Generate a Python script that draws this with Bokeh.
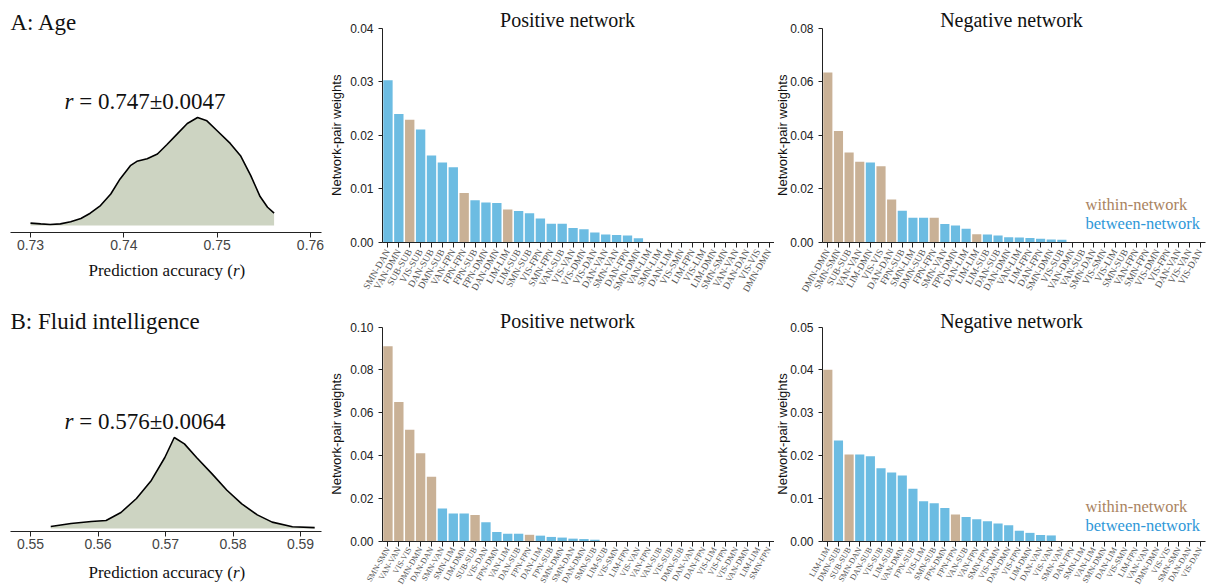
import math
from bokeh.plotting import figure
from bokeh.models import Range1d, FixedTicker, PrintfTickFormatter, Label, ColumnDataSource
from bokeh.layouts import row, column
from bokeh.embed import file_html
from bokeh.resources import INLINE

SERIF = "Liberation Serif"
SANS = "Liberation Sans"
BLUE = "#6cbce2"
TAN = "#c9b196"
FILL = "#cdd4c2"

# ------------------------------------------------------------------ data
age_pos_pairs = ["SMN-DAN", "VAN-DMN", "SUB-SUB", "VIS-SUB", "DAN-SUB", "DMN-SUB", "VAN-FPN",
                 "FPN-FPN", "FPN-SUB", "FPN-DMN", "DAN-DMN", "LIM-LIM", "LIM-SUB", "SMN-SUB",
                 "VIS-FPN", "SMN-FPN", "VAN-SUB", "VIS-VAN", "VIS-DMN", "VIS-DAN", "DAN-VAN",
                 "SMN-VAN", "DAN-FPN", "SMN-DMN", "VAN-LIM", "SMN-LIM", "DAN-LIM", "VIS-SMN",
                 "LIM-FPN", "VIS-LIM", "LIM-DMN", "SMN-SMN", "VAN-VAN", "DAN-DAN", "VIS-VIS",
                 "DMN-DMN"]
age_pos_weights = [0.0303, 0.0240, 0.0229, 0.0211, 0.0162, 0.0149, 0.0140, 0.0092, 0.0078,
                   0.0074, 0.0073, 0.0061, 0.0058, 0.0054, 0.0044, 0.0034, 0.0034, 0.0026,
                   0.0024, 0.0018, 0.0014, 0.0013, 0.0012, 0.0007, 0, 0, 0, 0, 0, 0, 0, 0,
                   0, 0, 0, 0]

age_neg_pairs = ["DMN-DMN", "SMN-SMN", "SUB-SUB", "VAN-VAN", "LIM-DMN", "VIS-VIS", "DAN-DAN",
                 "FPN-SUB", "SMN-LIM", "DMN-SUB", "FPN-FPN", "SMN-VAN", "FPN-DMN", "DAN-LIM",
                 "LIM-LIM", "LIM-SUB", "DAN-SUB", "DAN-DMN", "VAN-LIM", "LIM-FPN", "DAN-FPN",
                 "SMN-DMN", "VIS-SUB", "VAN-DMN", "VAN-SUB", "SMN-DAN", "VIS-SMN", "VIS-LIM",
                 "SMN-SUB", "VAN-FPN", "SMN-FPN", "VIS-DMN", "VIS-FPN", "DAN-VAN", "VIS-VAN",
                 "VIS-DAN"]
age_neg_weights = [0.0635, 0.0416, 0.0335, 0.0301, 0.0298, 0.0284, 0.0159, 0.0117, 0.0091,
                   0.0091, 0.0091, 0.0067, 0.0062, 0.0050, 0.0029, 0.0028, 0.0024, 0.0018,
                   0.0017, 0.0015, 0.0012, 0.0009, 0.0008, 0, 0, 0, 0, 0, 0, 0, 0, 0, 0,
                   0, 0, 0]

gf_pos_pairs = ["SMN-SMN", "VAN-VAN", "VIS-VIS", "DMN-DMN", "DAN-DAN", "SMN-VAN", "SMN-LIM",
                "LIM-DMN", "SUB-SUB", "VIS-DAN", "FPN-DMN", "VAN-LIM", "DAN-SUB", "FPN-FPN",
                "DAN-LIM", "FPN-SUB", "SMN-DMN", "SMN-DAN", "DAN-DMN", "SMN-SUB", "LIM-SUB",
                "VIS-SMN", "LIM-FPN", "VIS-VAN", "VAN-FPN", "VAN-SUB", "VIS-SUB", "DMN-SUB",
                "DAN-VAN", "DAN-FPN", "VIS-LIM", "VIS-FPN", "VIS-DMN", "VAN-DMN", "LIM-LIM",
                "SMN-FPN"]
gf_pos_weights = [0.0910, 0.0650, 0.0520, 0.0410, 0.0300, 0.0152, 0.0128, 0.0128, 0.0121,
                  0.0088, 0.0042, 0.0034, 0.0034, 0.0029, 0.0025, 0.0019, 0.0016, 0.0011,
                  0.0009, 0.0006, 0, 0, 0, 0, 0, 0, 0, 0, 0, 0, 0, 0, 0, 0, 0, 0]

gf_neg_pairs = ["LIM-LIM", "DMN-SUB", "SUB-SUB", "SMN-DAN", "DAN-SUB", "VIS-SUB", "LIM-SUB",
                "VAN-DMN", "FPN-SUB", "VIS-LIM", "SMN-SUB", "FPN-DMN", "FPN-FPN", "VAN-SUB",
                "VAN-FPN", "SMN-FPN", "VIS-DMN", "DAN-DMN", "VIS-FPN", "LIM-DMN", "DAN-VAN",
                "VIS-VAN", "SMN-VAN", "DAN-FPN", "SMN-LIM", "VAN-LIM", "SMN-DMN", "DAN-LIM",
                "VIS-SMN", "LIM-FPN", "VAN-VAN", "DMN-DMN", "VIS-VIS", "SMN-SMN", "DAN-DAN",
                "VIS-DAN"]
gf_neg_weights = [0.0400, 0.0235, 0.0202, 0.0202, 0.0198, 0.0170, 0.0160, 0.0153, 0.0122,
                  0.0093, 0.0088, 0.0077, 0.0062, 0.0056, 0.0051, 0.0046, 0.0041, 0.0037,
                  0.0024, 0.0019, 0.0014, 0.0013, 0, 0, 0, 0, 0, 0, 0, 0, 0, 0, 0, 0, 0, 0]

# prediction-accuracy distributions (relative density)
age_acc_r = [0.7300, 0.7311, 0.7321, 0.7332, 0.7343, 0.7354, 0.7364, 0.7375, 0.7386, 0.7396,
             0.7407, 0.7414, 0.7425, 0.7436, 0.7446, 0.7457, 0.7468, 0.7479, 0.7489, 0.7500,
             0.7514, 0.7525, 0.7536, 0.7546, 0.7554, 0.7561]
age_acc_density = [0.022, 0.015, 0.009, 0.015, 0.034, 0.065, 0.114, 0.185, 0.292, 0.431,
                   0.554, 0.594, 0.618, 0.662, 0.748, 0.846, 0.945, 1.000, 0.969, 0.877,
                   0.760, 0.646, 0.462, 0.268, 0.169, 0.114]
gf_acc_r = [0.5530, 0.5560, 0.5590, 0.5612, 0.5634, 0.5657, 0.5679, 0.5699, 0.5713, 0.5728,
            0.5746, 0.5769, 0.5791, 0.5813, 0.5836, 0.5858, 0.5888, 0.5921]
gf_acc_density = [0.022, 0.055, 0.077, 0.088, 0.176, 0.330, 0.528, 0.780, 1.000, 0.930,
                  0.780, 0.600, 0.420, 0.270, 0.150, 0.070, 0.020, 0.010]

age_acc_ticks = [0.73, 0.74, 0.75, 0.76]
gf_acc_ticks = [0.55, 0.56, 0.57, 0.58, 0.59]
age_pos_yticks = [0.0, 0.01, 0.02, 0.03, 0.04]
age_neg_yticks = [0.0, 0.02, 0.04, 0.06, 0.08]
gf_pos_yticks = [0.0, 0.02, 0.04, 0.06, 0.08, 0.10]
gf_neg_yticks = [0.0, 0.01, 0.02, 0.03, 0.04, 0.05]

age_r_text = "= 0.747\u00b10.0047"
gf_r_text = "= 0.576\u00b10.0064"


# ------------------------------------------------------------------ helpers
class Geo:
    """Maps page pixels to data for a figure whose frame fills its whole canvas."""

    def __init__(self, ox, oy, W, H, xv, xpx, xppu, yv, ypx, yppu):
        self.ox, self.oy, self.W, self.H = ox, oy, W, H
        self.xv, self.xpx, self.xppu = xv, xpx, xppu
        self.yv, self.ypx, self.yppu = yv, ypx, yppu

    def dx(self, px):
        return self.xv + (px - self.xpx) / self.xppu

    def dy(self, py):
        return self.yv + (self.ypx - py) / self.yppu

    def ranges(self):
        return (Range1d(self.dx(self.ox), self.dx(self.ox + self.W)),
                Range1d(self.dy(self.oy + self.H), self.dy(self.oy)))


def base_fig(g):
    xr, yr = g.ranges()
    p = figure(width=g.W, height=g.H, x_range=xr, y_range=yr,
               output_backend="svg", toolbar_location=None,
               min_border=0, min_border_left=0, min_border_right=0,
               min_border_top=0, min_border_bottom=0)
    p.title.visible = False
    p.xgrid.visible = False
    p.ygrid.visible = False
    p.outline_line_color = None
    p.background_fill_color = "white"
    p.border_fill_color = "white"
    return p


def add_text(p, g, px, py, text, size, font=SERIF, color="#111111", align="left",
             style="normal", angle=0.0):
    p.add_layout(Label(x=g.dx(px), y=g.dy(py), text=text, text_font=font,
                       text_font_size=f"{size}px", text_color=color, text_align=align,
                       text_baseline="middle", text_font_style=style, angle=angle))


def density_panel(oy, H, axis_py, base_py, peak_py, tick0_px, ppu, ticks, xs, ds,
                  panel_title, title_py, r_text, r_py, xlabel_py):
    g = Geo(0, oy, 326, H, ticks[0], tick0_px, ppu, 0.0, base_py, base_py - peak_py)
    p = base_fig(g)
    p.yaxis.visible = False
    src = ColumnDataSource(dict(x=xs, d=ds))
    p.varea(x="x", y1=0, y2="d", source=src, fill_color=FILL)
    p.line(x="x", y="d", source=src, line_color="black", line_width=1.6)
    ax = p.xaxis[0]
    ax.fixed_location = g.dy(axis_py)
    ax.bounds = (g.dx(10), g.dx(321))
    ax.ticker = FixedTicker(ticks=ticks)
    ax.formatter = PrintfTickFormatter(format="%.2f")
    ax.major_label_text_font = SANS
    ax.major_label_text_font_size = "14px"
    ax.major_label_text_color = "#444444"
    ax.major_tick_out = 5
    ax.major_tick_in = 0
    ax.minor_tick_line_color = None
    ax.axis_line_color = "#222222"
    ax.major_tick_line_color = "#222222"
    ax.major_label_standoff = 2
    add_text(p, g, 10, title_py, panel_title, 23)
    add_text(p, g, 64, r_py, "r", 23, style="italic")
    add_text(p, g, 78.7, r_py, r_text, 23)
    add_text(p, g, 232.4, xlabel_py, "Prediction accuracy (", 17, align="right")
    add_text(p, g, 232.4, xlabel_py, "r", 17, style="italic")
    add_text(p, g, 239.0, xlabel_py, ")", 17)
    return p


def bar_panel(ox, oy, W, H, axis_px, axis_end_px, zero_py, top_py, pairs, weights, yticks,
              title, title_px, title_py, ylab_px, label_size, label_standoff, legend=None):
    n = len(pairs)
    ymax = yticks[-1]
    cw = (axis_end_px - axis_px) / n
    g = Geo(ox, oy, W, H, -0.5, axis_px, cw, 0.0, zero_py, (zero_py - top_py) / ymax)
    p = base_fig(g)
    idx = list(range(n))
    colors = [TAN if a.split("-")[0] == a.split("-")[1] else BLUE for a in pairs]
    src = ColumnDataSource(dict(i=idx, w=weights, color=colors))
    p.vbar(x="i", top="w", width=0.86, source=src, fill_color="color", line_color=None)

    xa = p.xaxis[0]
    xa.fixed_location = 0.0
    xa.bounds = (-0.5, n - 0.5)
    xa.ticker = FixedTicker(ticks=idx)
    xa.major_label_overrides = {i: name for i, name in enumerate(pairs)}
    xa.major_label_orientation = math.pi / 3
    xa.major_label_text_font = SERIF
    xa.major_label_text_font_size = f"{label_size}px"
    xa.major_label_text_color = "#555555"
    xa.major_label_standoff = label_standoff
    xa.major_tick_out = 5
    xa.major_tick_in = 0
    xa.minor_tick_line_color = None
    xa.axis_line_color = "#222222"
    xa.major_tick_line_color = "#222222"

    ya = p.yaxis[0]
    ya.fixed_location = -0.5
    ya.bounds = (0, ymax)
    ya.ticker = FixedTicker(ticks=yticks)
    ya.formatter = PrintfTickFormatter(format="%.2f")
    ya.major_label_text_font = SANS
    ya.major_label_text_font_size = "12px"
    ya.major_label_text_color = "#222222"
    ya.major_tick_out = 4
    ya.major_tick_in = 0
    ya.minor_tick_line_color = None
    ya.axis_line_color = "#222222"
    ya.major_tick_line_color = "#222222"
    ya.major_label_standoff = 5

    add_text(p, g, title_px, title_py, title, 20, align="center")
    add_text(p, g, ylab_px, (zero_py + top_py) / 2, "Network-pair weights", 13, font=SANS,
             color="#111111", align="center", angle=math.pi / 2)
    if legend is not None:
        lx, ly1, ly2 = legend
        add_text(p, g, lx, ly1, "within-network", 16.5, color="#a9835f")
        add_text(p, g, lx, ly2, "between-network", 16.5, color="#2f98d8")
    return p


# ------------------------------------------------------------------ panels
R1, H1 = 0, 303
R2, H2 = 303, 282
C2, W2 = 326, 448
C3, W3 = 774, 435

dens_a = density_panel(R1, H1, 232, 225, 117, 30, 9333.3, age_acc_ticks, age_acc_r,
                       age_acc_density, "A: Age", 22, age_r_text, 101, 270)
dens_b = density_panel(R2, H2, 531, 528, 437, 30, 6750.0, gf_acc_ticks, gf_acc_r,
                       gf_acc_density, "B: Fluid intelligence", 321, gf_r_text, 421, 572)

pos_a = bar_panel(C2, R1, W2, H1, 382, 774, 241.5, 28, age_pos_pairs, age_pos_weights,
                  age_pos_yticks, "Positive network", 567, 19, 336, 9.5, 3)
neg_a = bar_panel(C3, R1, W3, H1, 822, 1205, 241.5, 28, age_neg_pairs, age_neg_weights,
                  age_neg_yticks, "Negative network", 1011, 19, 781.5, 9.5, 3,
                  legend=(1085, 204, 223))
pos_b = bar_panel(C2, R2, W2, H2, 382, 774, 540.5, 326.5, gf_pos_pairs, gf_pos_weights,
                  gf_pos_yticks, "Positive network", 567, 320, 336, 8.2, 2)
neg_b = bar_panel(C3, R2, W3, H2, 822, 1205, 540.5, 326.5, gf_neg_pairs, gf_neg_weights,
                  gf_neg_yticks, "Negative network", 1011, 320, 781.5, 8.2, 2,
                  legend=(1085, 506, 525))

layout = column(row(dens_a, pos_a, neg_a), row(dens_b, pos_b, neg_b))

open("out.html", "w").write(file_html(layout, INLINE))
